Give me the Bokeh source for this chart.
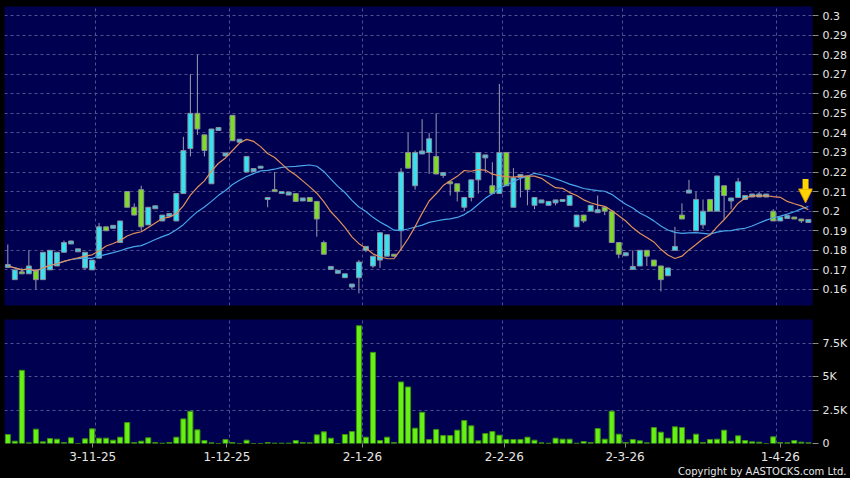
import pandas as pd
from bokeh.plotting import figure
from bokeh.layouts import column
from bokeh.models import Range1d, FixedTicker, ColumnDataSource, Arrow, NormalHead, Title
from bokeh.embed import file_html
from bokeh.resources import INLINE

# ---------------- data ----------------
open_ = [0.172, 0.165, 0.169, 0.168, 0.170, 0.165, 0.170, 0.172, 0.179, 0.184,
         0.180, 0.171, 0.170, 0.176, 0.192, 0.192, 0.184, 0.210, 0.202, 0.211,
         0.193, 0.202, 0.195, 0.198, 0.195, 0.209, 0.232, 0.250, 0.239, 0.214,
         0.242, 0.229, 0.249, 0.236, 0.220, 0.221, 0.222, 0.206, 0.211, 0.209,
         0.209, 0.209, 0.206, 0.207, 0.205, 0.184, 0.171, 0.169, 0.166, 0.162,
         0.166, 0.180, 0.172, 0.175, 0.177, 0.178, 0.190, 0.230, 0.213, 0.230,
         0.230, 0.228, 0.219, 0.215, 0.214, 0.202, 0.207, 0.216, 0.228, 0.213,
         0.209, 0.230, 0.202, 0.218, 0.218, 0.203, 0.205, 0.203, 0.205, 0.205,
         0.203, 0.192, 0.198, 0.200, 0.200, 0.202, 0.200, 0.184, 0.178, 0.171,
         0.172, 0.180, 0.175, 0.172, 0.167, 0.180, 0.198, 0.210, 0.190, 0.193,
         0.206, 0.200, 0.213, 0.206, 0.207, 0.206, 0.208, 0.208, 0.208, 0.200,
         0.195, 0.197, 0.197, 0.196, 0.195]
high = [0.183, 0.170, 0.171, 0.180, 0.170, 0.179, 0.180, 0.179, 0.185, 0.185,
        0.180, 0.179, 0.175, 0.194, 0.192, 0.192, 0.195, 0.210, 0.204, 0.213,
        0.202, 0.202, 0.198, 0.198, 0.209, 0.238, 0.270, 0.280, 0.239, 0.242,
        0.242, 0.229, 0.249, 0.236, 0.228, 0.221, 0.223, 0.207, 0.220, 0.210,
        0.209, 0.209, 0.206, 0.207, 0.205, 0.185, 0.171, 0.169, 0.168, 0.162,
        0.175, 0.182, 0.177, 0.189, 0.188, 0.178, 0.222, 0.240, 0.231, 0.247,
        0.240, 0.250, 0.219, 0.215, 0.214, 0.207, 0.216, 0.230, 0.228, 0.225,
        0.265, 0.230, 0.222, 0.218, 0.218, 0.207, 0.205, 0.205, 0.205, 0.206,
        0.208, 0.198, 0.198, 0.203, 0.208, 0.202, 0.200, 0.184, 0.178, 0.180,
        0.180, 0.180, 0.175, 0.172, 0.171, 0.192, 0.204, 0.216, 0.210, 0.206,
        0.206, 0.218, 0.213, 0.206, 0.217, 0.208, 0.208, 0.210, 0.208, 0.201,
        0.197, 0.197, 0.197, 0.196, 0.195]
low = [0.172, 0.165, 0.168, 0.168, 0.160, 0.165, 0.170, 0.172, 0.179, 0.184,
       0.180, 0.170, 0.170, 0.176, 0.190, 0.192, 0.184, 0.202, 0.198, 0.190,
       0.193, 0.202, 0.195, 0.198, 0.195, 0.209, 0.228, 0.239, 0.228, 0.214,
       0.242, 0.228, 0.236, 0.236, 0.220, 0.221, 0.222, 0.202, 0.210, 0.209,
       0.209, 0.205, 0.206, 0.205, 0.187, 0.178, 0.171, 0.169, 0.166, 0.160,
       0.158, 0.179, 0.171, 0.171, 0.177, 0.177, 0.180, 0.222, 0.211, 0.230,
       0.219, 0.219, 0.217, 0.208, 0.205, 0.200, 0.205, 0.209, 0.220, 0.209,
       0.209, 0.213, 0.202, 0.207, 0.203, 0.201, 0.205, 0.203, 0.203, 0.205,
       0.203, 0.192, 0.194, 0.200, 0.199, 0.198, 0.184, 0.176, 0.178, 0.171,
       0.172, 0.172, 0.172, 0.159, 0.167, 0.180, 0.196, 0.210, 0.190, 0.191,
       0.200, 0.200, 0.196, 0.201, 0.207, 0.206, 0.208, 0.208, 0.208, 0.195,
       0.195, 0.197, 0.196, 0.194, 0.195]
close = [0.172, 0.170, 0.168, 0.172, 0.165, 0.179, 0.180, 0.179, 0.184, 0.184,
         0.180, 0.179, 0.175, 0.192, 0.190, 0.192, 0.195, 0.202, 0.198, 0.192,
         0.202, 0.202, 0.198, 0.198, 0.209, 0.231, 0.250, 0.242, 0.231, 0.242,
         0.242, 0.229, 0.236, 0.236, 0.228, 0.221, 0.223, 0.207, 0.210, 0.210,
         0.209, 0.205, 0.206, 0.205, 0.196, 0.178, 0.171, 0.169, 0.168, 0.162,
         0.174, 0.182, 0.177, 0.189, 0.188, 0.177, 0.220, 0.222, 0.230, 0.230,
         0.237, 0.219, 0.219, 0.214, 0.210, 0.207, 0.216, 0.230, 0.228, 0.209,
         0.230, 0.213, 0.217, 0.218, 0.211, 0.207, 0.205, 0.205, 0.205, 0.206,
         0.208, 0.198, 0.195, 0.203, 0.200, 0.200, 0.184, 0.178, 0.178, 0.171,
         0.180, 0.177, 0.172, 0.165, 0.171, 0.182, 0.196, 0.210, 0.206, 0.200,
         0.200, 0.218, 0.208, 0.206, 0.215, 0.208, 0.208, 0.208, 0.208, 0.195,
         0.197, 0.197, 0.196, 0.195, 0.195]
volume = [675, 175, 5500, 50, 1075, 125, 375, 325, 75, 425,
          0, 350, 1100, 400, 400, 250, 475, 1575, 75, 175,
          425, 75, 20, 75, 475, 1850, 2425, 1025, 225, 50,
          0, 300, 75, 0, 250, 0, 0, 75, 25, 25,
          25, 225, 75, 50, 650, 875, 400, 0, 675, 900,
          8850, 475, 6850, 225, 475, 75, 4625, 4250, 1150, 2350,
          300, 1050, 600, 600, 1000, 1725, 1325, 200, 750, 900,
          625, 300, 300, 300, 475, 250, 50, 20, 400, 325,
          325, 20, 150, 75, 1125, 325, 2425, 700, 75, 300,
          200, 50, 1200, 850, 400, 1250, 1200, 275, 700, 75,
          300, 325, 1000, 175, 575, 225, 125, 100, 0, 500,
          75, 50, 225, 100, 50]

date_tick_labels = ["3-11-25", "1-12-25", "2-1-26", "2-2-26", "2-3-26", "1-4-26"]
date_tick_pos = [12.1, 31.2, 50.5, 70.7, 87.9, 110.0]
date_grid_pos = [12.5, 31.5, 50.5, 70.5, 87.5, 109.5]
price_ticks = [0.16, 0.17, 0.18, 0.19, 0.2, 0.21, 0.22, 0.23, 0.24, 0.25,
               0.26, 0.27, 0.28, 0.29, 0.3]
price_tick_labels = ["0.16", "0.17", "0.18", "0.19", "0.2", "0.21", "0.22", "0.23",
                     "0.24", "0.25", "0.26", "0.27", "0.28", "0.29", "0.3"]
vol_ticks = [0, 2500, 5000, 7500]
vol_tick_labels = ["0", "2.5K", "5K", "7.5K"]
copyright_text = "Copyright by AASTOCKS.com Ltd."

# ---------------- styling ----------------
BG = "#000050"
GRID = "#50508c"
CYAN = "#33e3f2"
GREEN = "#7edb26"
VOLG = "#66f014"
WICK = "#9c9cae"
TXT = "#e6e6e6"
FONT = "DejaVu Sans"

df = pd.DataFrame(dict(open=open_, high=high, low=low, close=close, volume=volume))
df["i"] = range(len(df))
df["top"] = df[["open", "close"]].max(axis=1)
df["bot"] = df[["open", "close"]].min(axis=1)
df["ma10"] = df["close"].rolling(10, min_periods=1).mean()
df["ma20"] = df["close"].rolling(20, min_periods=1).mean()
up = df[df.close > df.open]
dn = df[df.close < df.open]
fl = df[df.close == df.open]

x_range = Range1d(-0.47, 114.59)


def style(p):
    p.xgrid.ticker = FixedTicker(ticks=date_grid_pos)
    for g in (p.xgrid, p.ygrid):
        g.grid_line_color = GRID
        g.grid_line_dash = "3 3"
        g.grid_line_width = 1
    p.yaxis.axis_line_color = None
    p.yaxis.major_tick_line_color = "#8a8a8a"
    p.yaxis.major_tick_in = 0
    p.yaxis.major_tick_out = 6
    p.yaxis.minor_tick_line_color = None
    p.yaxis.major_label_standoff = 4
    p.yaxis.major_label_text_color = TXT
    p.yaxis.major_label_text_font = FONT
    p.yaxis.major_label_text_font_size = "11px"


p1 = figure(width=850, height=310, x_range=x_range, y_range=Range1d(0.1518, 0.3046),
            y_axis_location="right", x_axis_location=None,
            output_backend="svg", toolbar_location=None,
            background_fill_color=BG, border_fill_color="black",
            min_border_left=4, min_border_right=36, min_border_top=6, min_border_bottom=5,
            outline_line_color=None)
style(p1)
p1.yaxis.ticker = FixedTicker(ticks=price_ticks)
p1.yaxis.major_label_overrides = dict(zip(price_ticks, price_tick_labels))
p1.ygrid.ticker = FixedTicker(ticks=price_ticks)

src = ColumnDataSource(df)
p1.segment(x0="i", y0="low", x1="i", y1="high", source=src, line_color=WICK, line_width=1)
p1.vbar(x="i", top="top", bottom="bot", width=0.7, source=ColumnDataSource(up),
        fill_color=CYAN, line_color="#8c8c9c", line_width=1)
p1.vbar(x="i", top="top", bottom="bot", width=0.7, source=ColumnDataSource(dn),
        fill_color=GREEN, line_color="#8c8c9c", line_width=1)
p1.rect(x="i", y="close", width=0.7, height=3, height_units="screen",
        source=ColumnDataSource(fl), fill_color="#4cc4dc", line_color="#8c8c9c", line_width=1)
p1.line(x="i", y="ma20", source=src, line_color="#48a6ea", line_width=1.2)
p1.line(x="i", y="ma10", source=src, line_color="#e0905c", line_width=1.2)

last = len(df) - 1
tip = df["ma10"].iloc[-1] + 0.0035
p1.add_layout(Arrow(end=NormalHead(size=14, fill_color="#ffd400", line_color="#d89a00", line_width=1),
                    x_start=last - 0.4, y_start=tip + 0.0122, x_end=last - 0.4, y_end=tip,
                    line_color="#ffd400", line_width=6))

p2 = figure(width=850, height=168, x_range=x_range, y_range=Range1d(0, 9320),
            y_axis_location="right", output_backend="svg", toolbar_location=None,
            background_fill_color=BG, border_fill_color="black",
            min_border_left=4, min_border_right=36, min_border_top=9, min_border_bottom=35,
            outline_line_color=None)
style(p2)
p2.yaxis.ticker = FixedTicker(ticks=vol_ticks)
p2.yaxis.major_label_overrides = dict(zip(vol_ticks, vol_tick_labels))
p2.ygrid.ticker = FixedTicker(ticks=vol_ticks[1:])
p2.xaxis.ticker = FixedTicker(ticks=date_tick_pos)
p2.xaxis.major_label_overrides = dict(zip(date_tick_pos, date_tick_labels))
p2.xaxis.axis_line_color = None
p2.xaxis.major_tick_line_color = "#8a8a8a"
p2.xaxis.major_tick_in = 0
p2.xaxis.major_tick_out = 4
p2.xaxis.minor_tick_line_color = None
p2.xaxis.major_label_standoff = 4
p2.xaxis.major_label_text_color = TXT
p2.xaxis.major_label_text_font = FONT
p2.xaxis.major_label_text_font_size = "12px"

p2.vbar(x="i", top="volume", bottom=0, width=0.72, source=src,
        fill_color=VOLG, line_color="#3c9010", line_width=1)

p2.add_layout(Title(text=copyright_text, align="right", offset=-34, standoff=0,
                    text_color=TXT, text_font=FONT, text_font_size="10px",
                    text_font_style="normal"), "below")

layout = column(p1, p2, spacing=0)
try:
    from bokeh.models import GlobalInlineStyleSheet
    layout.stylesheets = [GlobalInlineStyleSheet(
        css="html, body {margin:0 !important; padding:0; background:#000; overflow:hidden;}")]
except Exception:
    pass

p = layout
open("out.html", "w").write(file_html(p, INLINE))
